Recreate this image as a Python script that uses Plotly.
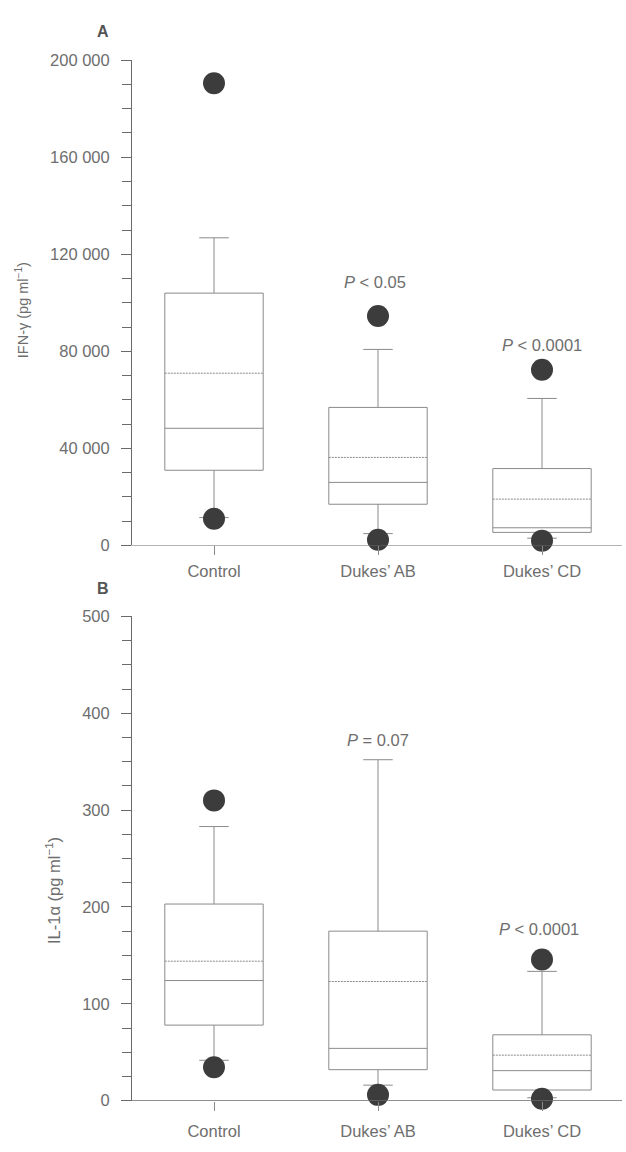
import plotly.graph_objects as go

# ---------------- data ----------------
categories = ["Control", "Dukes\u2019 AB", "Dukes\u2019 CD"]
cat_pos = [0, 1, 2]

# Panel A: IFN-gamma (pg/ml)
a_q1 = [31000, 17000, 5400]
a_median = [48300, 26000, 7300]
a_q3 = [104000, 56900, 31700]
a_mean = [71000, 36300, 19100]
a_lower = [11500, 4900, 3000]
a_upper = [126800, 80800, 60600]
a_out_x = [0, 0, 1, 1, 2, 2]
a_out_y = [190500, 11000, 94600, 2400, 72400, 2000]
a_tickvals = [0, 40000, 80000, 120000, 160000, 200000]
a_ticktext = ["0", "40 000", "80 000", "120 000", "160 000", "200 000"]
a_pvals = ["<i>P</i> < 0.05", "<i>P</i> < 0.0001"]

# Panel B: IL-1alpha (pg/ml)
b_q1 = [78, 32, 11]
b_median = [124, 54, 31]
b_q3 = [203, 175, 68]
b_mean = [144, 123, 47]
b_lower = [41.7, 16, 3]
b_upper = [283, 352, 133.5]
b_out_x = [0, 0, 1, 2, 2]
b_out_y = [310, 34.5, 6, 145.7, 2]
b_tickvals = [0, 100, 200, 300, 400, 500]
b_ticktext = ["0", "100", "200", "300", "400", "500"]
b_pvals = ["<i>P</i> = 0.07", "<i>P</i> < 0.0001"]

# ---------------- styling ----------------
W, H = 626, 1152
FONT = "Liberation Sans, Arial, Helvetica, sans-serif"
TXT = "#6e6e6e"
LINE = "#8a8a8a"
AXIS = "#6a6a6a"
DOT = "#3c3c3c"


def px_x(p):
    return p / W


def px_y(p):
    return (H - p) / H


fig = go.Figure()


def add_panel(q1, med, q3, mean, lo, hi, ox, oy, xa, ya):
    fig.add_trace(go.Box(
        x=cat_pos, q1=q1, median=med, q3=q3, mean=mean,
        lowerfence=lo, upperfence=hi, boxmean=True,
        width=0.6, whiskerwidth=0.3, boxpoints=False,
        line=dict(color=LINE, width=1), fillcolor="rgba(255,255,255,0)",
        xaxis=xa, yaxis=ya, showlegend=False, hoverinfo="skip",
    ))
    fig.add_trace(go.Scatter(
        x=ox, y=oy, mode="markers", cliponaxis=False,
        marker=dict(size=22, color=DOT, line=dict(width=0)),
        xaxis=xa, yaxis=ya, showlegend=False, hoverinfo="skip",
    ))


add_panel(a_q1, a_median, a_q3, a_mean, a_lower, a_upper, a_out_x, a_out_y, "x", "y")
add_panel(b_q1, b_median, b_q3, b_mean, b_lower, b_upper, b_out_x, b_out_y, "x2", "y2")

xdom = [px_x(132), px_x(622)]
xrange = [-0.5, (622 - 214) / 164]

common_x = dict(
    domain=xdom, range=xrange, type="linear", tickvals=cat_pos, ticktext=categories,
    ticks="outside", ticklen=9, tickcolor=LINE, tickwidth=1, showline=False,
    showgrid=False, zeroline=False, tickfont=dict(family=FONT, size=16.5, color=TXT),
)
common_y = dict(
    showline=True, linecolor=AXIS, linewidth=1, ticks="outside", ticklen=10,
    tickcolor=AXIS, tickwidth=1, showgrid=False, zeroline=False,
    tickfont=dict(family=FONT, size=16.5, color=TXT), ticklabelstandoff=8,
)

fig.update_layout(
    width=W, height=H, margin=dict(l=0, r=0, t=0, b=0),
    paper_bgcolor="white", plot_bgcolor="white", showlegend=False,
    xaxis=dict(common_x, anchor="y", ticklabelstandoff=2),
    yaxis=dict(common_y, domain=[px_y(545), px_y(52)], range=[0, 200000], anchor="x",
               tickvals=a_tickvals, ticktext=a_ticktext,
               minor=dict(dtick=10000, ticks="outside", ticklen=9, tickcolor=AXIS, tickwidth=1, showgrid=False)),
    xaxis2=dict(common_x, anchor="y2", ticklabelstandoff=7),
    yaxis2=dict(common_y, domain=[px_y(1109), px_y(617)], range=[0, 500], anchor="x2",
                tickvals=b_tickvals, ticktext=b_ticktext,
                minor=dict(dtick=25, ticks="outside", ticklen=9, tickcolor=AXIS, tickwidth=1, showgrid=False)),
)

# x-axis baselines (extend left of the y axis as in the original)
for yref in ["y", "y2"]:
    fig.add_shape(type="line", xref="paper", yref=yref, x0=px_x(122), x1=px_x(622),
                  y0=0, y1=0, line=dict(color=AXIS, width=1.2), layer="above")

ann = []


def add_ann(text, x, y, xref, yref, size, color=TXT, angle=0):
    ann.append(dict(text=text, x=x, y=y, xref=xref, yref=yref, showarrow=False,
                    xanchor="center", yanchor="middle", textangle=angle,
                    font=dict(family=FONT, size=size, color=color)))


# panel letters
add_ann("<b>A</b>", px_x(103), px_y(23), "paper", "paper", 16, "#555555")
add_ann("<b>B</b>", px_x(103), px_y(589), "paper", "paper", 16, "#555555")
# y-axis titles
add_ann("IFN-\u03b3 (pg ml<sup>\u22121</sup>)", px_x(22), px_y(306), "paper", "paper", 14.5, TXT, -90)
add_ann("IL-1\u03b1 (pg ml<sup>\u22121</sup>)", px_x(53), px_y(896), "paper", "paper", 16.5, TXT, -90)
# significance labels
add_ann(a_pvals[0], 0.98, 108500, "x", "y", 16.5)
add_ann(a_pvals[1], 2, 82500, "x", "y", 16.5)
add_ann(b_pvals[0], 1, 372, "x2", "y2", 16.5)
add_ann(b_pvals[1], 1.98, 177, "x2", "y2", 16.5)
fig.update_layout(annotations=ann)

fig.write_html(
    "out.html",
    config={"displayModeBar": False},
    post_script="document.body.style.margin='0';document.body.style.overflow='hidden';",
)
